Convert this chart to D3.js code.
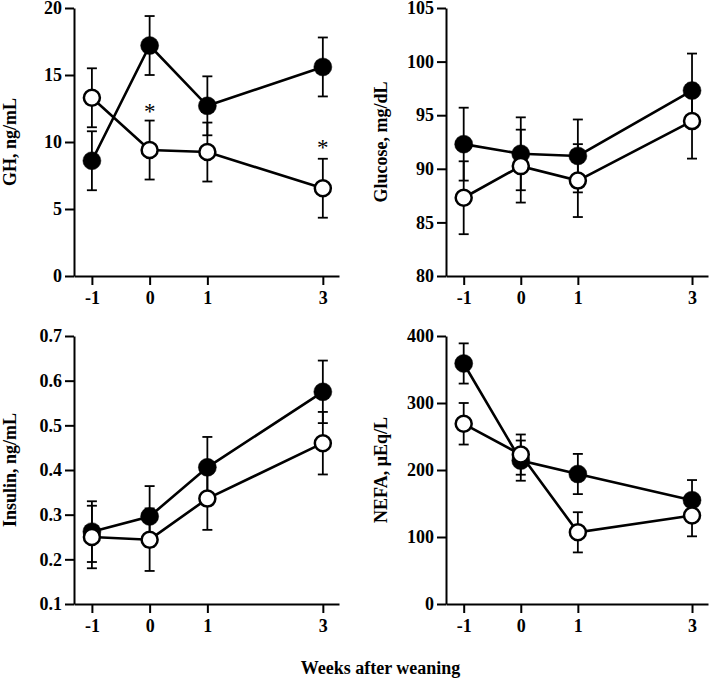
<!DOCTYPE html>
<html>
<head>
<meta charset="utf-8">
<script src="https://cdn.jsdelivr.net/npm/d3@7"></script>
<style>
  html, body { margin: 0; padding: 0; background: #fff; }
  svg { display: block; }
  text { font-family: "Liberation Serif", "Times New Roman", serif; }
</style>
</head>
<body>
<svg id="chart" width="711" height="681"></svg>
<script>
// ---- Data ----
const weeks = [-1, 0, 1, 3];
const weekTickLabels = ["-1", "0", "1", "3"];

const ghFilled = [8.6, 17.2, 12.7, 15.6];
const ghFilledSE = [2.2, 2.2, 2.2, 2.2];
const ghOpen = [13.3, 9.4, 9.25, 6.55];
const ghOpenSE = [2.2, 2.2, 2.2, 2.2];
const ghStars = [{ x: 0, y: 12.7 }, { x: 3, y: 10.0 }];
const ghTicks = [0, 5, 10, 15, 20];

const gluFilled = [92.3, 91.4, 91.2, 97.3];
const gluFilledSE = [3.4, 3.4, 3.4, 3.45];
const gluOpen = [87.3, 90.25, 88.9, 94.45];
const gluOpenSE = [3.4, 3.4, 3.4, 3.5];
const gluTicks = [80, 85, 90, 95, 100, 105];

const insFilled = [0.262, 0.296, 0.406, 0.575];
const insFilledSE = [0.068, 0.068, 0.068, 0.07];
const insOpen = [0.25, 0.244, 0.336, 0.46];
const insOpenSE = [0.07, 0.07, 0.07, 0.07];
const insTicks = [0.1, 0.2, 0.3, 0.4, 0.5, 0.6, 0.7];

const nefaFilled = [359, 214, 194, 155];
const nefaFilledSE = [30, 30, 30, 30];
const nefaOpen = [269, 223, 107, 132];
const nefaOpenSE = [31, 30, 30, 31];
const nefaTicks = [0, 100, 200, 300, 400];

const xAxisTitle = "Weeks after weaning";

// ---- Layout ----
const svg = d3.select("#chart");
svg.append("rect").attr("width", 711).attr("height", 681).attr("fill", "#fff");

const panels = [
  { label: "GH, ng/mL", x0: 74, x1: 339, y0: 276, y1: 8, ticks: ghTicks, fmt: d3.format("d"),
    filled: ghFilled, filledSE: ghFilledSE, open: ghOpen, openSE: ghOpenSE, stars: ghStars, labelX: 16 },
  { label: "Glucose, mg/dL", x0: 446, x1: 708, y0: 276, y1: 8, ticks: gluTicks, fmt: d3.format("d"),
    filled: gluFilled, filledSE: gluFilledSE, open: gluOpen, openSE: gluOpenSE, stars: [], labelX: 387 },
  { label: "Insulin, ng/mL", x0: 74, x1: 339, y0: 604, y1: 336, ticks: insTicks, fmt: d3.format(".1f"),
    filled: insFilled, filledSE: insFilledSE, open: insOpen, openSE: insOpenSE, stars: [], labelX: 16 },
  { label: "NEFA, μEq/L", x0: 446, x1: 708, y0: 604, y1: 336, ticks: nefaTicks, fmt: d3.format("d"),
    filled: nefaFilled, filledSE: nefaFilledSE, open: nefaOpen, openSE: nefaOpenSE, stars: [], labelX: 387 }
];

const xDomain = [-1.31, 3.28];
const fontSize = 18;

panels.forEach(p => {
  const x = d3.scaleLinear().domain(xDomain).range([p.x0, p.x1]);
  const y = d3.scaleLinear().domain([p.ticks[0], p.ticks[p.ticks.length - 1]]).range([p.y0, p.y1]);
  const g = svg.append("g");

  // Y axis
  const yAxis = d3.axisLeft(y).tickValues(p.ticks).tickFormat(p.fmt).tickSize(9).tickSizeOuter(0).tickPadding(3);
  const yg = g.append("g").attr("transform", `translate(${p.x0},0)`).call(yAxis);
  // X axis
  const xAxis = d3.axisBottom(x).tickValues(weeks).tickFormat((d, i) => weekTickLabels[i]).tickSize(9).tickSizeOuter(0).tickPadding(6);
  const xg = g.append("g").attr("transform", `translate(0,${p.y0})`).call(xAxis);

  [yg, xg].forEach(ax => {
    ax.select(".domain").attr("stroke", "#000").attr("stroke-width", 2);
    ax.selectAll(".tick line").attr("stroke", "#000").attr("stroke-width", 2);
    ax.selectAll(".tick text")
      .attr("fill", "#000")
      .style("font-family", '"Liberation Serif", "Times New Roman", serif')
      .style("font-weight", "bold")
      .style("font-size", fontSize + "px");
  });

  // Y label
  g.append("text")
    .attr("transform", `translate(${p.labelX},${(p.y0 + p.y1) / 2}) rotate(-90)`)
    .attr("text-anchor", "middle")
    .style("font-weight", "bold")
    .style("font-size", fontSize + "px")
    .attr("fill", "#000")
    .text(p.label);

  const line = d3.line().x(d => x(d.w)).y(d => y(d.v));

  const series = [
    { vals: p.filled, se: p.filledSE, fill: "#000" },
    { vals: p.open, se: p.openSE, fill: "#fff" }
  ];

  series.forEach(s => {
    const data = weeks.map((w, i) => ({ w, v: s.vals[i], se: s.se[i] }));
    const sg = g.append("g");
    // error bars
    const eb = sg.selectAll(".eb").data(data).enter().append("g");
    eb.append("line")
      .attr("x1", d => x(d.w)).attr("x2", d => x(d.w))
      .attr("y1", d => y(d.v - d.se)).attr("y2", d => y(d.v + d.se))
      .attr("stroke", "#000").attr("stroke-width", 1.8);
    [-1, 1].forEach(sgn => {
      eb.append("line")
        .attr("x1", d => x(d.w) - 5).attr("x2", d => x(d.w) + 5)
        .attr("y1", d => y(d.v + sgn * d.se)).attr("y2", d => y(d.v + sgn * d.se))
        .attr("stroke", "#000").attr("stroke-width", 1.8);
    });
    // line
    sg.append("path").datum(data)
      .attr("d", line)
      .attr("fill", "none").attr("stroke", "#000").attr("stroke-width", 2.6);
    // markers
    sg.selectAll(".mk").data(data).enter().append("circle")
      .attr("cx", d => x(d.w)).attr("cy", d => y(d.v))
      .attr("r", s.fill === "#000" ? 9 : 8)
      .attr("fill", s.fill).attr("stroke", "#000").attr("stroke-width", s.fill === "#000" ? 0.5 : 2.5);
  });

  // significance stars
  const starSize = 23;
  g.selectAll(".star").data(p.stars).enter().append("text")
    .attr("x", d => x(d.x)).attr("y", d => y(d.y) + starSize * 0.56)
    .attr("text-anchor", "middle")
    .style("font-size", starSize + "px")
    .attr("fill", "#000")
    .text("*");
});

// Common x title
svg.append("text")
  .attr("x", 380.5).attr("y", 674)
  .attr("text-anchor", "middle")
  .style("font-weight", "bold")
  .style("font-size", fontSize + "px")
  .attr("fill", "#000")
  .text(xAxisTitle);
</script>
</body>
</html>
